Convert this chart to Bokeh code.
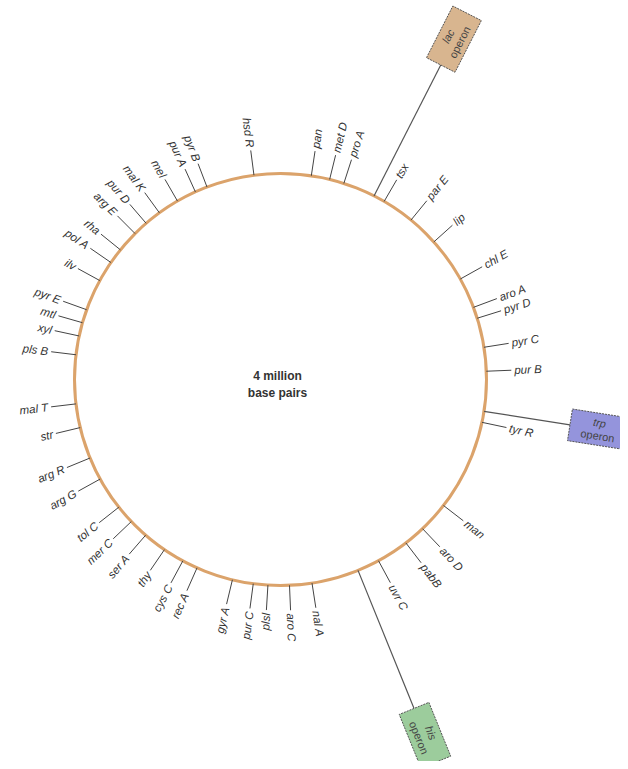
import numpy as np
from bokeh.plotting import figure
from bokeh.models import Range1d, ColumnDataSource
from bokeh.core.properties import value
from bokeh.embed import file_html
from bokeh.resources import INLINE

# ---- data: gene loci on the E. coli chromosome (degrees clockwise from top) ----
genes = ["pan", "met D", "pro A", "tsx", "par E", "lip", "chl E", "aro A", "pyr D",
         "pyr C", "pur B", "tyr R", "man", "aro D", "pabB", "uvr C", "nal A", "aro C",
         "plsl", "pur C", "gyr A", "rec A", "cys C", "thy", "ser A", "mer C", "tol C",
         "arg G", "arg R", "str", "mal T", "pls B", "xyl", "mtl", "pyr E", "ilv",
         "pol A", "rha", "arg E", "pur D", "mal K", "mel", "pur A", "pyr B", "hsd R"]
gene_deg = [8.6, 13.8, 17.9, 30.2, 39.3, 48.1, 60.8, 69.5, 72.7,
            81.0, 87.7, 102.0, 127.7, 136.4, 142.5, 151.6, 171.2, 177.5,
            183.5, 187.6, 193.5, 203.9, 208.3, 214.3, 220.9, 226.4, 231.7,
            241.1, 247.6, 256.5, 263.2, 276.9, 282.2, 286.0, 289.8, 298.7,
            304.6, 309.0, 315.1, 319.3, 324.0, 330.0, 335.6, 339.1, 352.6]

operons = ["lac", "trp", "his"]
operon_deg = [27.0, 98.9, 157.9]
operon_word = ["operon", "operon", "operon"]
center_lines = ["4 million", "base pairs"]

# ---- layout / style ----
CX, CY, R = 280, 390, 206
TICK_IN, TICK_OUT, TEXT_R = 206, 231, 234
box_r = {"lac": 382, "trp": 322, "his": 384}
box_fill = {"lac": "#d8b58f", "trp": "#9494dc", "his": "#9ccc9c"}
BOX_L, BOX_W = 58, 32
FONT = value("Liberation Sans")

p = figure(width=620, height=761, output_backend="svg", toolbar_location=None,
           x_range=Range1d(0, 620), y_range=Range1d(8, 769), min_border=0,
           x_axis_location=None, y_axis_location=None)
p.grid.visible = False
p.outline_line_color = None
p.background_fill_color = "white"
p.border_fill_color = "white"

# chromosome circle
p.circle(x=[CX], y=[CY], radius=R, fill_color=None, line_color="#dba36b", line_width=3)

# gene ticks + labels
th = np.radians(np.array(gene_deg))
ux, uy = np.sin(th), np.cos(th)
p.segment(x0=CX + TICK_IN * ux, y0=CY + TICK_IN * uy,
          x1=CX + TICK_OUT * ux, y1=CY + TICK_OUT * uy,
          line_color="#444444", line_width=1)

right = ux >= 0
gnames = np.array(genes)
src_r = ColumnDataSource(dict(x=CX + TEXT_R * ux[right], y=CY + TEXT_R * uy[right],
                              t=gnames[right],
                              a=np.radians(90 - np.array(gene_deg)[right])))
src_l = ColumnDataSource(dict(x=CX + TEXT_R * ux[~right], y=CY + TEXT_R * uy[~right],
                              t=gnames[~right],
                              a=np.radians(270 - np.array(gene_deg)[~right])))
for src, al in ((src_r, "left"), (src_l, "right")):
    p.text(x="x", y="y", text="t", angle="a", source=src, text_align=al,
           text_baseline="middle", text_font=FONT, text_font_style="italic",
           text_font_size="11.5px", text_color="#333333")

# operons: connecting line, box, two-line label
for name, deg, word in zip(operons, operon_deg, operon_word):
    t = np.radians(deg)
    ox, oy = np.sin(t), np.cos(t)
    rb = box_r[name]
    p.line(x=[CX + R * ox, CX + (rb - BOX_L / 2) * ox],
           y=[CY + R * oy, CY + (rb - BOX_L / 2) * oy],
           line_color="#555555", line_width=1.2)
    phi = np.radians(90 - deg)
    bx, by = CX + rb * ox, CY + rb * oy
    p.rect(x=[bx], y=[by], width=BOX_L, height=BOX_W, angle=phi,
           fill_color=box_fill[name], line_color="#555555", line_width=1, line_dash="2 1")
    nx, ny = -np.sin(phi), np.cos(phi)
    p.text(x=[bx + 6.5 * nx], y=[by + 6.5 * ny], text=[name], angle=phi,
           text_align="center", text_baseline="middle", text_font=FONT,
           text_font_style="italic", text_font_size="11px", text_color="#444444")
    p.text(x=[bx - 6.5 * nx], y=[by - 6.5 * ny], text=[word], angle=phi,
           text_align="center", text_baseline="middle", text_font=FONT,
           text_font_size="11px", text_color="#444444")

# centre label
p.text(x=[277, 277], y=[394, 377], text=center_lines, text_align="center",
       text_baseline="middle", text_font=FONT, text_font_size="12px",
       text_font_style="bold", text_color="#333333")

open("out.html", "w").write(file_html(p, INLINE))
